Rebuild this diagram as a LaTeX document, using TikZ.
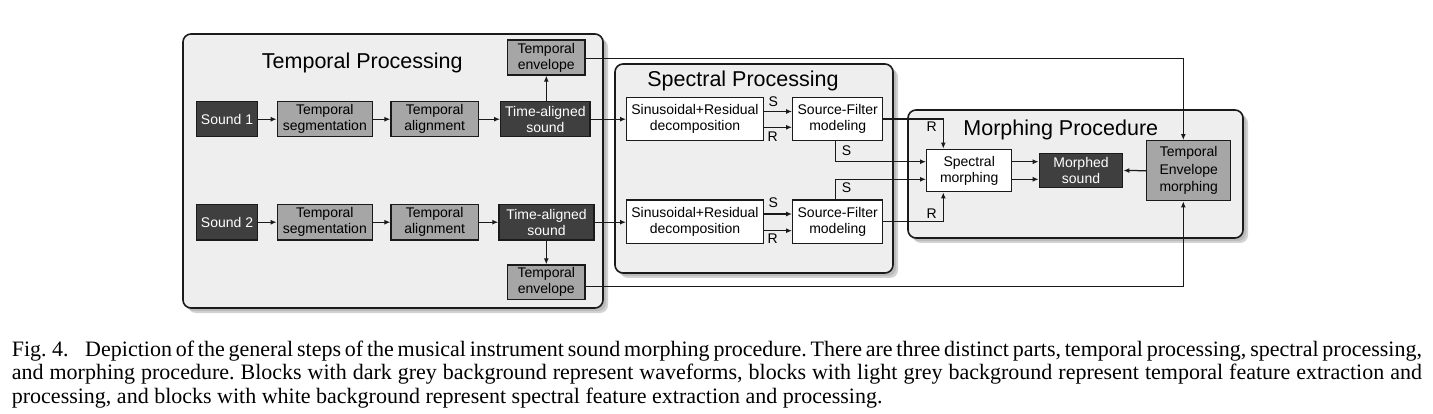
\documentclass[tikz,border=0pt]{standalone}
\usepackage{fontspec}
\setmainfont{Liberation Serif}
\newfontfamily\arialf{Liberation Sans}
\usetikzlibrary{arrows.meta,calc}
\definecolor{cont}{HTML}{EEEEEE}
\definecolor{lgray}{HTML}{A6A6A6}
\definecolor{dgray}{HTML}{3F3F3F}
\definecolor{edge}{HTML}{1A1A1A}
\definecolor{shadA}{HTML}{D2D2D2}
\definecolor{shadB}{HTML}{BBBBBB}
\frenchspacing
\begin{document}
\begin{tikzpicture}[x=1pt,y=-1pt,
 box/.style={draw=edge,line width=1.35pt,inner sep=0pt,align=center,font=\arialf\fontsize{14}{16}\selectfont},
 wave/.style={box,fill=dgray,text=white},
 tbox/.style={box,fill=lgray,text=black},
 sbox/.style={box,fill=white,text=black},
 arr/.style={draw=edge,line width=1.25pt,-{Latex[length=6pt,width=5pt]}},
 lbl/.style={font=\arialf\fontsize{14}{16}\selectfont,inner sep=0pt,text=black},
 title/.style={font=\arialf\fontsize{21.5}{24}\selectfont,inner sep=0pt,anchor=base,text=black},
 container/.style={draw=edge,line width=1.6pt,fill=cont,rounded corners=8pt},
 shadowA/.style={fill=shadA,rounded corners=8pt},
 shadowB/.style={fill=shadB,rounded corners=8pt},
 capline/.style={anchor=base west,inner sep=0pt,font=\fontsize{22}{23.5}\selectfont,text=black}]

\useasboundingbox[fill=white] (0,0) rectangle (1433,414);

% containers with shadows
\fill[shadowA] (188,39) rectangle (608,313);
\fill[shadowB] (186,37) rectangle (606,311);
\draw[container] (183,34) rectangle (603,308);
\fill[shadowA] (620,69) rectangle (898,278);
\fill[shadowB] (618,67) rectangle (896,276);
\draw[container] (615,64) rectangle (893,273);
\fill[shadowA] (913,115) rectangle (1248,243);
\fill[shadowB] (911,113) rectangle (1246,241);
\draw[container] (908,110) rectangle (1243,238);

% titles
\node[title] (tpt) at (362.3,68.3) {Temporal Processing};
\node[title] (spt) at (743,86.7) {Spectral Processing};
\node[title] (mpt) at (1060.8,136) {Morphing Procedure};

% temporal processing
\node[wave, minimum width=60.6, minimum height=35] (s1) at (227,119.2) {Sound 1};
\node[tbox, minimum width=95, minimum height=35] (seg1) at (324.8,119.2) {Temporal\\segmentation};
\node[tbox, minimum width=87.3, minimum height=35] (al1) at (434.7,119.2) {Temporal\\alignment};
\node[wave, minimum width=89.3, minimum height=35] (ta1) at (545.4,119.2) {Time-aligned\\sound};
\node[wave, minimum width=60.6, minimum height=35.7] (s2) at (227,222.2) {Sound 2};
\node[tbox, minimum width=95, minimum height=35.7] (seg2) at (324.8,222.2) {Temporal\\segmentation};
\node[tbox, minimum width=87.3, minimum height=35.7] (al2) at (434.7,222.2) {Temporal\\alignment};
\node[wave, minimum width=95, minimum height=35.7] (ta2) at (546.5,222.2) {Time-aligned\\sound};
\node[tbox, minimum width=77.3, minimum height=35] (envT) at (546.3,57.5) {Temporal\\envelope};
\node[tbox, minimum width=77.3, minimum height=34.3] (envB) at (546.3,282.2) {Temporal\\envelope};

% spectral processing
\node[sbox, minimum width=136.6, minimum height=43.4] (sr1) at (695,119) {Sinusoidal+Residual\\decomposition};
\node[sbox, minimum width=90, minimum height=43.4] (sf1) at (837.7,119) {Source-Filter\\modeling};
\node[sbox, minimum width=136.6, minimum height=43.4] (sr2) at (695,221.7) {Sinusoidal+Residual\\decomposition};
\node[sbox, minimum width=90, minimum height=43.4] (sf2) at (837.7,221.7) {Source-Filter\\modeling};

% morphing procedure
\node[sbox, minimum width=85, minimum height=42.4] (sm) at (969.2,170.5) {Spectral\\morphing};
\node[wave, minimum width=83.4, minimum height=34.4] (ms) at (1081,170.5) {Morphed\\sound};
\node[tbox, minimum width=84, minimum height=60, font=\arialf\fontsize{14}{17.5}\selectfont] (tem) at (1188.7,170.7) {Temporal\\Envelope\\morphing};
\coordinate (rx) at (943.3,0);

% connectors: temporal
\draw[arr] (s1) -- (seg1);
\draw[arr] (seg1) -- (al1);
\draw[arr] (al1) -- (ta1);
\draw[arr] (s2) -- (seg2);
\draw[arr] (seg2) -- (al2);
\draw[arr] (al2) -- (ta2);
\draw[arr] (envT.south |- ta1.north) -- (envT.south);
\draw[arr] (envB.north |- ta2.south) -- (envB.north);

% temporal -> spectral
\draw[arr] (ta1.east) -- (sr1.west |- ta1.east);
\draw[arr] (ta2.east) -- (sr2.west |- ta2.east);

% S / R between decomposition and modeling
\draw[arr] ($(sr1.east)+(0,-7.5)$) -- node[lbl, pos=0.33, above=4.5pt] {S} ($(sf1.west)+(0,-7.5)$);
\draw[arr] ($(sr1.east)+(0,8.3)$) -- node[lbl, pos=0.31, below=4pt] {R} ($(sf1.west)+(0,8.3)$);
\draw[arr] ($(sr2.east)+(0,-7.7)$) -- node[lbl, pos=0.33, above=5.5pt] {S} ($(sf2.west)+(0,-7.7)$);
\draw[arr] ($(sr2.east)+(0,9)$) -- node[lbl, pos=0.31, below=2.5pt] {R} ($(sf2.west)+(0,9)$);

% modeling -> spectral morphing
\draw[arr] ($(sf1.south)+(-2.4,0)$) |- node[lbl, pos=0.22, right=6pt] {S} ($(sm.west)+(0,-8.8)$);
\draw[arr] ($(sf2.north)+(-2.4,0)$) |- node[lbl, pos=0.29, right=6pt] {S} ($(sm.west)+(0,8.8)$);
\draw[arr] (sf1.east) -| node[lbl, pos=0.63, left=6pt] {R} (rx |- sm.north);
\draw[arr] (sf2.east) -| node[lbl, pos=0.645, left=6pt] {R} (rx |- sm.south);

% morphing
\draw[arr] ($(sm.east)+(0,-8.8)$) -- ($(ms.west)+(0,-8.8)$);
\draw[arr] ($(sm.east)+(0,8.8)$) -- ($(ms.west)+(0,8.8)$);
\draw[arr] (tem.west) -- (ms.east);

% envelopes -> envelope morphing
\draw[arr] ($(envT.east)+(0,0.8)$) -| ($(tem.north)+(-5.4,0)$);
\draw[arr] ($(envB.east)+(0,4.5)$) -| ($(tem.south)+(-5.4,0)$);

% caption
\node[capline] (cap1) at (11.7,356) {\makebox[1410pt][s]{\mbox{Fig.~4.}\hskip 0.75em Depiction of the general steps of the musical instrument sound morphing procedure. There are three distinct parts, temporal processing, spectral processing,}};
\node[capline] (cap2) at (11.7,379.5) {\makebox[1410pt][s]{and morphing procedure. Blocks with dark grey background represent waveforms, blocks with light grey background represent temporal feature extraction and}};
\node[capline] (cap3) at (11.7,403) {processing, and blocks with white background represent spectral feature extraction and processing.};
\end{tikzpicture}
\end{document}
